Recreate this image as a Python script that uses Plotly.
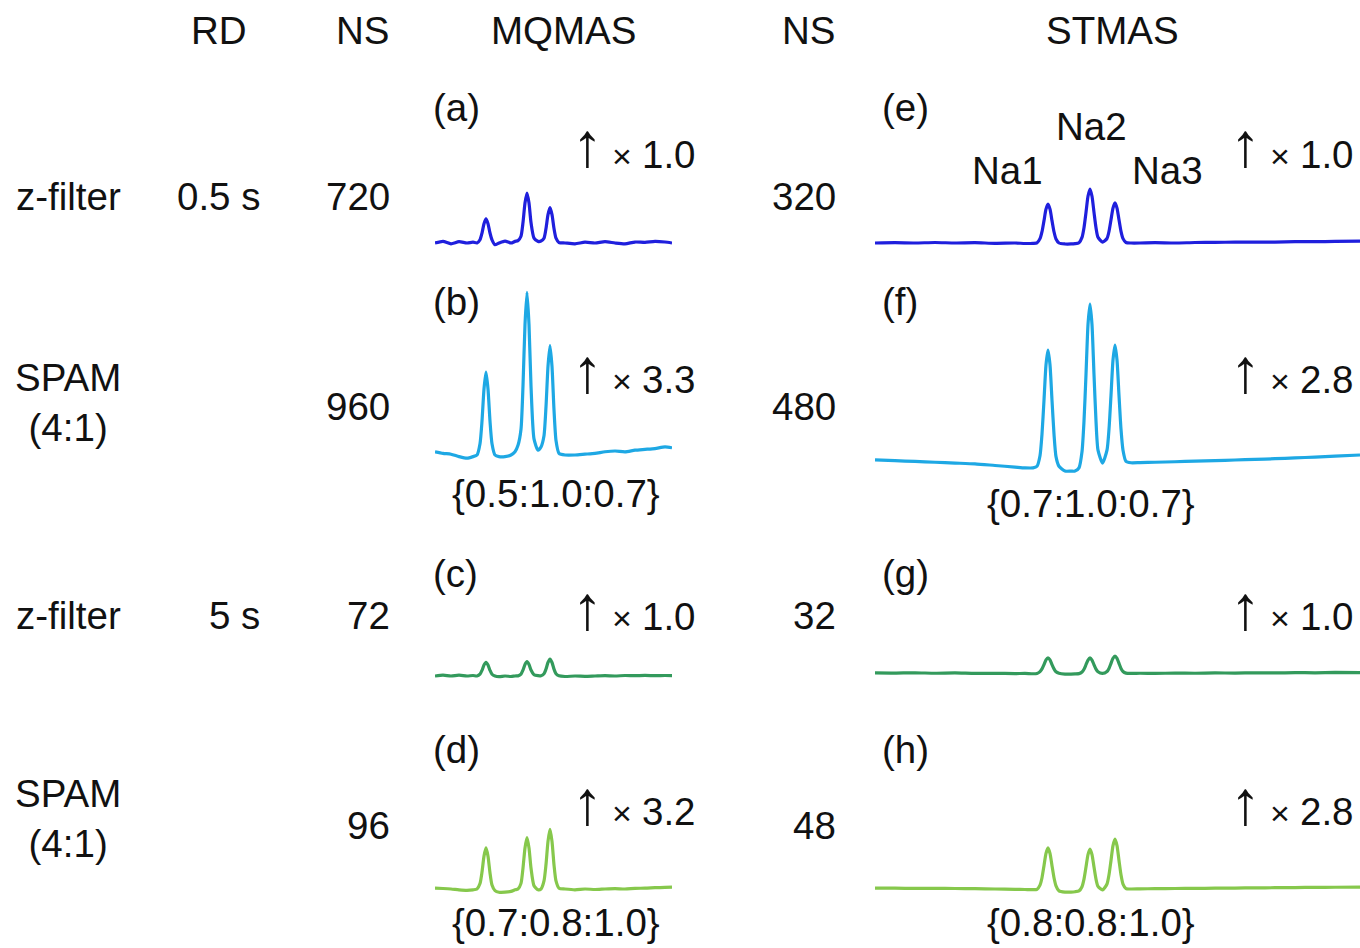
import plotly.graph_objects as go

W, H = 1360, 948
FONT = "Liberation Sans, Arial, sans-serif"
INK = "#111111"

# ---- spectral data -------------------------------------------------------
# sample positions across each window (MQMAS window is narrower than STMAS)
MQ_X = [0, 8, 16, 24, 32, 38, 42,
        45, 47, 49, 51, 53, 55, 57, 60,
        64, 70, 76, 80,
        83, 86, 88, 90, 92, 94, 96, 99,
        103,
        106, 109, 111, 113, 115, 117, 119, 121, 124,
        130, 140, 150, 160, 170, 180, 190, 200, 210, 220, 230, 237]

ST_X = [0, 20, 40, 60, 80, 100, 120, 140, 150, 158, 162,
        165, 167, 169, 171, 173, 175, 177, 179, 181, 184,
        190, 196, 200, 204,
        207, 209, 211, 213, 215, 217, 219, 221, 223,
        227.5,
        232, 234, 236, 238, 240, 242, 244, 246, 248, 251,
        256, 265, 280, 300, 320, 340, 360, 380, 400, 420, 440, 460, 485]

# intensities normalised to the Na2 line of SPAM MQMAS (RD 0.5 s)
MQ_A = [0.0, 0.01, -0.005, 0.008, 0.0, 0.005, 0.0,
        0.02, 0.062, 0.12, 0.15, 0.12, 0.062, 0.02, -0.01,
        0.0, 0.012, 0.0, 0.01,
        0.015, 0.042, 0.127, 0.248, 0.31, 0.248, 0.127, 0.03,
        0.01,
        0.012, 0.03, 0.09, 0.176, 0.22, 0.176, 0.09, 0.03, 0.003,
        0.0, -0.005, 0.005, 0.0, 0.008, 0.0, -0.005, 0.006, 0.004, 0.01, 0.006, 0.0]

MQ_B = [0.02, 0.01, 0.005, -0.01, -0.02, -0.01, 0.0,
        0.07, 0.21, 0.41, 0.515, 0.41, 0.21, 0.07, 0.0,
        -0.01, -0.01, 0.0, 0.02,
        0.06, 0.16, 0.43, 0.81, 1.01, 0.81, 0.43, 0.1,
        0.03,
        0.05, 0.12, 0.3, 0.55, 0.68, 0.55, 0.28, 0.09, 0.01,
        0.0, 0.0, 0.005, 0.01, 0.02, 0.025, 0.02, 0.03, 0.035, 0.04, 0.05, 0.045]

MQ_C = [0.0, 0.005, 0.0, 0.005, 0.0, 0.003, 0.0,
        0.011, 0.035, 0.068, 0.085, 0.068, 0.035, 0.011, 0.0,
        -0.004, 0.0, -0.003, 0.0,
        0.001, 0.012, 0.037, 0.072, 0.09, 0.072, 0.037, 0.008,
        0.002,
        0.002, 0.014, 0.043, 0.084, 0.105, 0.084, 0.043, 0.014, 0.001,
        -0.003, 0.0, -0.002, 0.0, 0.002, 0.0, 0.003, 0.002, 0.004, 0.002, 0.003, 0.002]

MQ_D = [0.005, 0.003, 0.0, -0.005, -0.008, -0.005, 0.0,
        0.034, 0.105, 0.204, 0.255, 0.204, 0.1, 0.025, -0.01,
        -0.02, -0.02, -0.015, -0.005,
        0.0, 0.035, 0.13, 0.255, 0.32, 0.255, 0.13, 0.02,
        -0.005,
        0.0, 0.05, 0.152, 0.296, 0.37, 0.296, 0.15, 0.05, 0.005,
        0.0, -0.005, 0.0, -0.003, 0.0, 0.002, 0.0, 0.004, 0.005, 0.008, 0.01, 0.012]

ST_E = [0.0, 0.002, 0.0, 0.003, 0.0, 0.002, -0.002, 0.0, -0.003, -0.002, 0.001,
        0.027, 0.07, 0.139, 0.21, 0.242, 0.21, 0.139, 0.07, 0.025, 0.0,
        -0.006, -0.006, -0.004, 0.002,
        0.035, 0.095, 0.19, 0.29, 0.335, 0.29, 0.19, 0.095, 0.035,
        0.006,
        0.028, 0.072, 0.144, 0.217, 0.25, 0.217, 0.144, 0.072, 0.027, 0.003,
        0.0, 0.0, 0.002, 0.0, 0.003, 0.004, 0.005, 0.006, 0.006, 0.008, 0.008, 0.01, 0.012]

ST_F = [-0.03, -0.035, -0.04, -0.045, -0.05, -0.055, -0.065, -0.075, -0.08, -0.08, -0.07,
        -0.005, 0.13, 0.34, 0.56, 0.652, 0.56, 0.34, 0.13, -0.01, -0.07,
        -0.1, -0.1, -0.1, -0.08,
        0.02, 0.21, 0.5, 0.81, 0.938, 0.81, 0.5, 0.21, 0.03,
        -0.05,
        0.03, 0.16, 0.37, 0.59, 0.683, 0.59, 0.37, 0.16, 0.03, -0.04,
        -0.048, -0.047, -0.045, -0.042, -0.038, -0.035, -0.031, -0.027, -0.023, -0.018, -0.013, -0.007, 0.0]

ST_G = [0.019, 0.018, 0.02, 0.017, 0.019, 0.016, 0.017, 0.015, 0.016, 0.014, 0.016,
        0.027, 0.044, 0.071, 0.1, 0.112, 0.1, 0.071, 0.044, 0.026, 0.017,
        0.012, 0.012, 0.013, 0.015,
        0.025, 0.042, 0.07, 0.099, 0.112, 0.099, 0.07, 0.043, 0.026,
        0.016,
        0.028, 0.047, 0.078, 0.11, 0.124, 0.11, 0.078, 0.047, 0.028, 0.018,
        0.016, 0.017, 0.016, 0.018, 0.017, 0.019, 0.018, 0.02, 0.019, 0.021, 0.02, 0.022, 0.021]

ST_H = [0.006, 0.005, 0.004, 0.004, 0.003, 0.002, 0.0, -0.002, -0.003, -0.004, -0.002,
        0.024, 0.07, 0.145, 0.221, 0.255, 0.221, 0.145, 0.07, 0.02, -0.012,
        -0.019, -0.019, -0.017, -0.012,
        0.014, 0.061, 0.136, 0.214, 0.248, 0.214, 0.136, 0.061, 0.016,
        -0.006,
        0.031, 0.088, 0.177, 0.27, 0.31, 0.27, 0.177, 0.088, 0.03, 0.002,
        0.0, 0.001, 0.002, 0.003, 0.004, 0.005, 0.006, 0.007, 0.008, 0.009, 0.01, 0.011, 0.012]

# ---- table text ----------------------------------------------------------
HEADERS = ["RD", "NS", "MQMAS", "NS", "STMAS"]
ROW_LABELS = ["z-filter", "SPAM<br>(4:1)", "z-filter", "SPAM<br>(4:1)"]
RD_LABELS = ["0.5 s", "5 s"]
NS_MQMAS = ["720", "960", "72", "96"]
NS_STMAS = ["320", "480", "32", "48"]
PANEL_MQMAS = ["(a)", "(b)", "(c)", "(d)"]
PANEL_STMAS = ["(e)", "(f)", "(g)", "(h)"]
SCALE_MQMAS = ["1.0", "3.3", "1.0", "3.2"]
SCALE_STMAS = ["1.0", "2.8", "1.0", "2.8"]
RATIO_MQMAS = ["{0.5:1.0:0.7}", "{0.7:0.8:1.0}"]
RATIO_STMAS = ["{0.7:1.0:0.7}", "{0.8:0.8:1.0}"]
SITES = ["Na1", "Na2", "Na3"]

ROW_COLORS = ["#1f1fdd", "#1ea8e4", "#339a5c", "#86c84c"]

MQ_ROWS = [MQ_A, MQ_B, MQ_C, MQ_D]
ST_ROWS = [ST_E, ST_F, ST_G, ST_H]

# ---- layout geometry (pixels) -------------------------------------------
ROW_BASE = [243, 455, 676, 889]        # baseline pixel row of each spectrum row
PX_PER_UNIT = 161.0
Y_LO, Y_HI = -0.2, 1.2
MQ_COL = (435, 672)
ST_COL = (875, 1360)
FS = 38.5

fig = go.Figure()
layout_axes = {}


def yfrac(py):
    return 1 - py / H


n = 0
for r in range(4):
    top = ROW_BASE[r] - Y_HI * PX_PER_UNIT
    bot = ROW_BASE[r] - Y_LO * PX_PER_UNIT
    for xs, ys, col in ((MQ_X, MQ_ROWS[r], MQ_COL), (ST_X, ST_ROWS[r], ST_COL)):
        n += 1
        sfx = "" if n == 1 else str(n)
        fig.add_trace(go.Scatter(
            x=xs, y=ys, mode="lines",
            line=dict(color=ROW_COLORS[r], width=3.2, shape="spline", smoothing=0.6),
            xaxis="x" + sfx, yaxis="y" + sfx, hoverinfo="skip", showlegend=False))
        hidden = dict(visible=False, showgrid=False, zeroline=False, fixedrange=True)
        layout_axes["xaxis" + sfx] = dict(hidden, domain=[col[0] / W, col[1] / W],
                                          range=[0, col[1] - col[0]], anchor="y" + sfx)
        layout_axes["yaxis" + sfx] = dict(hidden, domain=[yfrac(bot), yfrac(top)],
                                          range=[Y_LO, Y_HI], anchor="x" + sfx)

annotations = []


def txt(px, py, text, xanchor="center", size=FS):
    annotations.append(dict(
        x=px / W, y=yfrac(py), xref="paper", yref="paper", text=text,
        xanchor=xanchor, yanchor="middle", showarrow=False,
        font=dict(family=FONT, size=size, color=INK)))


def scale_mark(right_px, cy, value):
    # vertical arrow, multiplication sign and scaling factor
    txt(right_px - 111, cy - 9, "↑", size=62)
    txt(right_px - 76, cy + 2, "×", size=34)
    txt(right_px, cy, value, "right")


# column headers
for label, cx in zip(HEADERS, [219, 362, 563, 808, 1112]):
    txt(cx, 31, label)

# row descriptors
for label, cy in zip(ROW_LABELS, [197, 402, 615, 818]):
    txt(68, cy, label)
txt(262, 197, RD_LABELS[0], "right")
txt(262, 615, RD_LABELS[1], "right")

for i, cy in enumerate([197, 407, 615, 825]):
    txt(392, cy, NS_MQMAS[i], "right")
    txt(838, cy, NS_STMAS[i], "right")

for i, cy in enumerate([107, 301, 573, 749]):
    txt(431, cy, PANEL_MQMAS[i], "left")
    txt(880, cy, PANEL_STMAS[i], "left")

for i, cy in enumerate([154, 379, 616, 811]):
    scale_mark(698, cy, SCALE_MQMAS[i])
    scale_mark(1356, cy, SCALE_STMAS[i])

txt(556, 493, RATIO_MQMAS[0])
txt(556, 922, RATIO_MQMAS[1])
txt(1091, 503, RATIO_STMAS[0])
txt(1091, 922, RATIO_STMAS[1])

for label, cx, cy in zip(SITES, [1007, 1091, 1167], [171, 127, 171]):
    txt(cx, cy, label)

fig.update_layout(
    width=W, height=H, autosize=False,
    margin=dict(l=0, r=0, t=0, b=0),
    paper_bgcolor="white", plot_bgcolor="rgba(0,0,0,0)",
    annotations=annotations,
    **layout_axes,
)

fig.write_html("out.html", config={"displayModeBar": False})
